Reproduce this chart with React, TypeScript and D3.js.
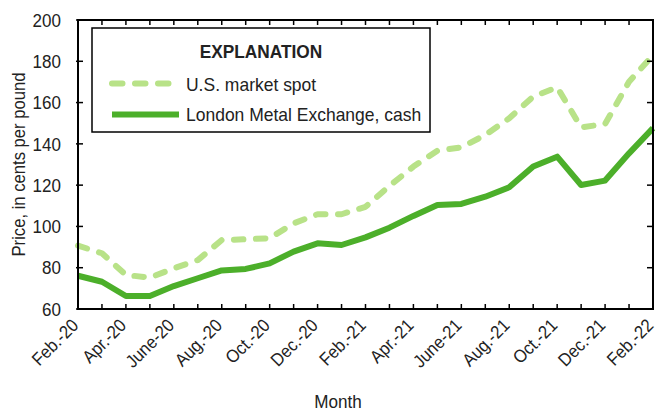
import React from "react";
import * as d3 from "d3";

const months = [
  "Feb.-20","Mar.-20","Apr.-20","May-20","June-20","July-20","Aug.-20","Sept.-20","Oct.-20","Nov.-20","Dec.-20","Jan.-21",
  "Feb.-21","Mar.-21","Apr.-21","May-21","June-21","July-21","Aug.-21","Sept.-21","Oct.-21","Nov.-21","Dec.-21","Jan.-22","Feb.-22",
];
const tickMonths = ["Feb.-20","Apr.-20","June-20","Aug.-20","Oct.-20","Dec.-20","Feb.-21","Apr.-21","June-21","Aug.-21","Oct.-21","Dec.-21","Feb.-22"];
const usSpot = [90.7, 87, 76.5, 75.2, 79.7, 83.7, 93.4, 93.8, 94.3, 101.5, 105.9, 105.9, 109.5, 119.6, 129, 136.7, 138.3, 144.3, 152.4, 162.9, 167.4, 148, 149.6, 170.1, 183];
const lme = [76.1, 73.2, 66.3, 66.3, 71.1, 74.9, 78.7, 79.4, 82.1, 87.8, 91.8, 91.0, 94.7, 99.4, 105.1, 110.4, 110.9, 114.4, 119, 129, 133.8, 120.1, 122.2, 135.4, 147.6];
const yTicks = [60, 80, 100, 120, 140, 160, 180, 200];

const W = 658, H = 413;
const L = 78, R = 653, T = 20, B = 309;
const solidColor = "#4caf2a";
const dashColor = "#b8e288";
const ink = "#222";

export default function App() {
  const x = d3.scalePoint<string>().domain(months).range([L, R]);
  const y = d3.scaleLinear().domain([60, 200]).range([B, T]);
  const line = d3.line<number>().x((_, i) => x(months[i])!).y((d) => y(d));

  return (
    <svg width={W} height={H} style={{ position: "absolute", left: 0, top: 0 }}
      fontFamily="'Liberation Sans', Arial, sans-serif">
      <rect x={0} y={0} width={W} height={H} fill="#fff" />
      <path d={line(usSpot)!} fill="none" stroke={dashColor} strokeWidth={6}
        strokeDasharray="9.5 12.5" strokeLinecap="round" strokeLinejoin="round" />
      <path d={line(lme)!} fill="none" stroke={solidColor} strokeWidth={6} strokeLinejoin="round" />
      <rect x={L} y={T} width={R - L} height={B - T} fill="none" stroke="#000" strokeWidth={2} />
      {months.map((m) => (
        <g key={m}>
          <line x1={x(m)} x2={x(m)} y1={B} y2={B - 5} stroke="#000" strokeWidth={1.5} />
          <line x1={x(m)} x2={x(m)} y1={T} y2={T + 5} stroke="#000" strokeWidth={1.5} />
        </g>
      ))}
      {yTicks.map((v) => (
        <g key={v}>
          <line x1={L - 2} x2={L + 5} y1={y(v)} y2={y(v)} stroke="#000" strokeWidth={1.5} />
          <line x1={R} x2={R - 6} y1={y(v)} y2={y(v)} stroke="#000" strokeWidth={1.5} />
          <text transform={`translate(61,${y(v)}) scale(0.92,1)`} dy="0.36em" textAnchor="end" fontSize={18.5} fill={ink}>{v}</text>
        </g>
      ))}
      {tickMonths.map((m) => (
        <text key={m} transform={`translate(${x(m)! - 3},${322}) rotate(-45) scale(0.92,1)`} textAnchor="end"
          dy="0.35em" fontSize={18} fill={ink}>{m}</text>
      ))}
      <text transform={`translate(25,${(T + B) / 2}) rotate(-90) scale(0.9,1)`} textAnchor="middle" fontSize={18.5} fill={ink}>
        Price, in cents per pound
      </text>
      <text transform="translate(338,408) scale(0.9,1)" textAnchor="middle" fontSize={19} fill={ink}>Month</text>
      <rect x={92} y={28} width={338} height={104} fill="#fff" stroke="#000" strokeWidth={1.5} />
      <text transform="translate(261,58) scale(0.9,1)" textAnchor="middle" fontSize={19.2} fontWeight="bold" fill={ink}>EXPLANATION</text>
      <line x1={112} x2={170} y1={83.5} y2={83.5} stroke={dashColor} strokeWidth={6}
        strokeDasharray="10.5 12.5" strokeLinecap="round" />
      <text transform="translate(186,90.5) scale(0.94,1)" fontSize={18.6} fill={ink}>U.S. market spot</text>
      <line x1={112} x2={179} y1={114.5} y2={114.5} stroke={solidColor} strokeWidth={6} />
      <text transform="translate(186,121) scale(0.94,1)" fontSize={18.6} fill={ink}>London Metal Exchange, cash</text>
    </svg>
  );
}
